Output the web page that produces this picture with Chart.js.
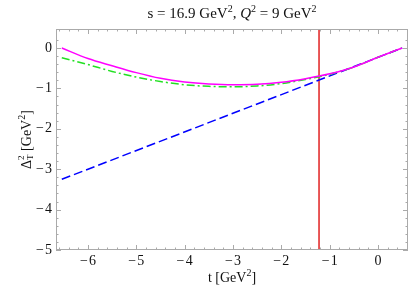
<!DOCTYPE html>
<html>
<head>
<meta charset="utf-8">
<script src="https://cdn.jsdelivr.net/npm/chart.js@4/dist/chart.umd.min.js"></script>
<style>
  html, body { margin: 0; padding: 0; background: #fff; }
  #wrap { width: 415px; height: 297px; }
</style>
</head>
<body>
<div id="wrap"><canvas id="chart" width="415" height="297"></canvas></div>
<script>
// values
var tValues = [-6.54, -6, -5.5, -5, -4.5, -4, -3.5, -3, -2.5, -2, -1.5, -1, -0.5, 0, 0.5];
var magentaValues = [0, -0.26, -0.44, -0.61, -0.75, -0.84, -0.89, -0.91, -0.90, -0.85, -0.76, -0.64, -0.47, -0.23, 0];
var greenValues = [-0.24, -0.41, -0.58, -0.72, -0.83, -0.91, -0.95, -0.96, -0.94, -0.88, -0.78, -0.65, -0.47, -0.23, 0];
var blueT = [-6.54, 0.5];
var blueValues = [-3.25, 0];
var tMin = -1.22;
var xTicks = [-6, -5, -4, -3, -2, -1, 0];
var yTicks = [0, -1, -2, -3, -4, -5];
var xRange = [-6.66, 0.62];
var yRange = [-5, 0.47];

var serif = '"Liberation Serif", "DejaVu Serif", serif';

function pts(xs, ys) {
  return xs.map(function(x, i) { return { x: x, y: ys[i] }; });
}

function fmt(v) {
  return v < 0 ? '\u2212\u200a' + Math.abs(v) : String(v);
}

// draws pieces of text one after another: [text, font, dy]
function drawRuns(ctx, runs, x, y, align) {
  var w = 0;
  runs.forEach(function(r) { ctx.font = r[1]; w += ctx.measureText(r[0]).width; });
  var cx = align === 'center' ? x - w / 2 : x;
  ctx.textAlign = 'left';
  ctx.textBaseline = 'middle';
  runs.forEach(function(r) {
    ctx.font = r[1];
    ctx.fillText(r[0], cx, y + (r[2] || 0));
    cx += ctx.measureText(r[0]).width;
  });
}

var framePlugin = {
  id: 'frame',
  afterDraw: function(chart) {
    var ctx = chart.ctx;
    var a = chart.chartArea;
    var xs = chart.scales.x, ys = chart.scales.y;
    ctx.save();
    ctx.strokeStyle = '#aaaaaa';
    ctx.lineWidth = 1;
    ctx.strokeRect(a.left + 0.5, a.top + 0.5, a.right - a.left - 1, a.bottom - a.top - 1);

    ctx.beginPath();
    var v, p, len;
    for (v = -6.6; v <= 0.6; v += 0.2) {
      var r = Math.round(v * 10) / 10;
      p = Math.round(xs.getPixelForValue(r)) + 0.5;
      len = Math.abs(r - Math.round(r)) < 0.01 ? 5 : 2.5;
      ctx.moveTo(p, a.bottom); ctx.lineTo(p, a.bottom - len);
      ctx.moveTo(p, a.top); ctx.lineTo(p, a.top + len);
    }
    for (v = -5; v <= 0.4; v += 0.2) {
      var q = Math.round(v * 10) / 10;
      p = Math.round(ys.getPixelForValue(q)) + 0.5;
      len = Math.abs(q - Math.round(q)) < 0.01 ? 5 : 2.5;
      ctx.moveTo(a.left, p); ctx.lineTo(a.left + len, p);
      ctx.moveTo(a.right, p); ctx.lineTo(a.right - len, p);
    }
    ctx.stroke();

    ctx.fillStyle = '#111';
    var cx = (a.left + a.right) / 2;
    drawRuns(ctx, [
      ['s = 16.9 GeV', '15px ' + serif],
      ['2', '10px ' + serif, -5],
      [', ', '15px ' + serif],
      ['Q', 'italic 15px ' + serif],
      ['2', '10px ' + serif, -5],
      [' = 9 GeV', '15px ' + serif],
      ['2', '10px ' + serif, -5]
    ], cx, 14, 'center');

    drawRuns(ctx, [
      ['t [GeV', '14px ' + serif],
      ['2', '10px ' + serif, -5],
      [']', '14px ' + serif]
    ], cx, 278, 'center');

    ctx.save();
    ctx.translate(27, (a.top + a.bottom) / 2);
    ctx.rotate(-Math.PI / 2);
    ctx.font = '14px ' + serif;
    var w1 = ctx.measureText('\u0394').width;
    ctx.font = '9px ' + serif;
    var w2 = ctx.measureText('T').width;
    ctx.font = '14px ' + serif;
    var w3 = ctx.measureText(' [GeV').width;
    ctx.font = '10px ' + serif;
    var w4 = ctx.measureText('2').width;
    ctx.font = '14px ' + serif;
    var w5 = ctx.measureText(']').width;
    var sx = -(w1 + w2 + w3 + w4 + w5) / 2;
    ctx.textBaseline = 'middle';
    ctx.textAlign = 'left';
    ctx.font = '14px ' + serif;
    ctx.fillText('\u0394', sx, 0); sx += w1;
    ctx.font = '9px ' + serif;
    ctx.fillText('2', sx, -5);
    ctx.fillText('T', sx, 4); sx += w2;
    ctx.font = '14px ' + serif;
    ctx.fillText(' [GeV', sx, 0); sx += w3;
    ctx.font = '10px ' + serif;
    ctx.fillText('2', sx, -5); sx += w4;
    ctx.font = '14px ' + serif;
    ctx.fillText(']', sx, 0);
    ctx.restore();

    ctx.restore();
  }
};

new Chart(document.getElementById('chart'), {
  type: 'line',
  data: {
    datasets: [
      {
        data: pts(tValues, magentaValues),
        borderColor: '#ff00ff',
        borderWidth: 1.5,
        pointRadius: 0,
        cubicInterpolationMode: 'monotone'
      },
      {
        data: pts(tValues, greenValues),
        borderColor: '#22e022',
        borderWidth: 1.5,
        borderDash: [8, 3, 2, 3],
        pointRadius: 0,
        cubicInterpolationMode: 'monotone'
      },
      {
        data: pts(blueT, blueValues),
        borderColor: '#0000ff',
        borderWidth: 1.5,
        borderDash: [9, 4],
        pointRadius: 0
      },
      {
        data: pts([tMin, tMin], yRange),
        borderColor: '#e02020',
        borderWidth: 1.5,
        pointRadius: 0
      }
    ]
  },
  options: {
    responsive: false,
    animation: false,
    layout: { padding: { top: 29, right: 7, left: 0, bottom: 0 } },
    plugins: { legend: { display: false }, tooltip: { enabled: false }, title: { display: false } },
    scales: {
      x: {
        type: 'linear',
        min: xRange[0],
        max: xRange[1],
        grid: { display: false, drawTicks: false },
        border: { display: false },
        afterBuildTicks: function(s) { s.ticks = xTicks.map(function(v) { return { value: v }; }); },
        afterFit: function(s) { s.height = 47; },
        ticks: {
          callback: fmt,
          padding: 3,
          color: '#111',
          maxRotation: 0,
          font: { family: serif, size: 14 }
        }
      },
      y: {
        type: 'linear',
        min: yRange[0],
        max: yRange[1],
        grid: { display: false, drawTicks: false },
        border: { display: false },
        afterBuildTicks: function(s) { s.ticks = yTicks.map(function(v) { return { value: v }; }); },
        afterFit: function(s) { s.width = 56; },
        ticks: {
          callback: fmt,
          padding: 4,
          color: '#111',
          font: { family: serif, size: 14 }
        }
      }
    }
  },
  plugins: [framePlugin]
});
</script>
</body>
</html>
